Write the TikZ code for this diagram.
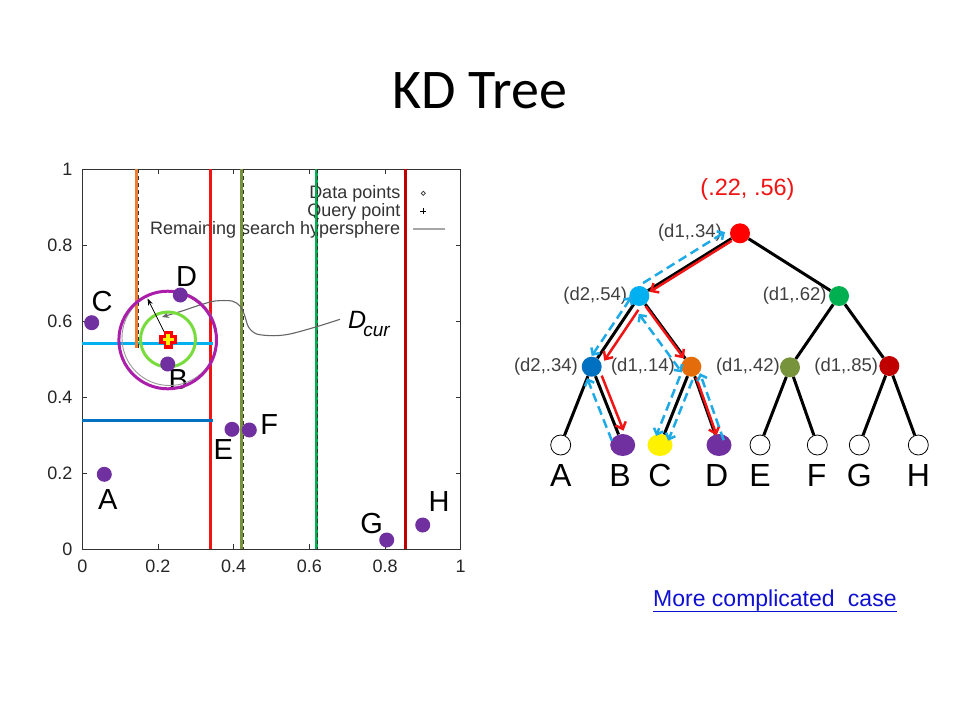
\documentclass[tikz,border=0pt]{standalone}
\usepackage{fontspec}
\setmainfont{Liberation Sans}
\newfontfamily\titlefont{Carlito}
\usetikzlibrary{arrows.meta,calc,shapes.geometric}
\definecolor{ptpurple}{RGB}{112,48,160}
\definecolor{lineorange}{RGB}{237,125,49}
\definecolor{linered}{RGB}{240,20,20}
\definecolor{lineolive}{RGB}{119,147,60}
\definecolor{linegreen}{RGB}{0,176,80}
\definecolor{linedarkred}{RGB}{192,0,0}
\definecolor{linecyan}{RGB}{0,176,240}
\definecolor{lineblue}{RGB}{0,112,192}
\definecolor{circmag}{RGB}{170,30,170}
\definecolor{circgreen}{RGB}{120,220,60}
\definecolor{nodeorange}{RGB}{228,108,10}
\definecolor{dashcyan}{RGB}{30,170,230}
\definecolor{labelgray}{RGB}{64,64,64}
\definecolor{linkblue}{RGB}{16,16,210}
\newcommand\myfs[1]{\fontsize{#1}{#1}\selectfont}
\newcommand\sidearrow[4]{\draw[#1] ($(#2.center)!#4!90:(#3.center)$) -- ($(#3.center)!#4!-90:(#2.center)$);}
\begin{document}
\begin{tikzpicture}[x=1pt,y=-1pt,
  plotline/.style={line width=3pt},
  blackdash/.style={line width=0.8pt, dash pattern=on 4pt off 3pt, black!80},
  tickmark/.style={line width=0.8pt, black!80},
  ticklabel/.style={font=\myfs{18}, text=black!85, inner sep=0pt},
  ptdot/.style={circle, fill=ptpurple, minimum size=15pt, inner sep=0pt},
  ptlabel/.style={font=\myfs{29}, inner sep=0pt},
  legendtext/.style={font=\myfs{18}, text=black!80, inner sep=0pt, anchor=base east},
  tnode/.style={circle, minimum size=20pt, inner sep=0pt},
  leaf/.style={circle, draw=black, line width=0.8pt, fill=white, minimum size=20pt, inner sep=0pt},
  pleaf/.style={ellipse, minimum width=25pt, minimum height=22pt, inner sep=0pt},
  tlabel/.style={font=\myfs{18.5}, text=labelgray, inner sep=0pt, anchor=east},
  leaflabel/.style={font=\myfs{32}, anchor=base, inner sep=0pt},
  edge/.style={line width=3pt, black},
  redarr/.style={line width=2.5pt, linered, -{Straight Barb[length=6pt,width=11pt]}},
  cyandash/.style={line width=2.5pt, dashcyan, dash pattern=on 9pt off 5pt},
  cyanend/.style={cyandash, -{Straight Barb[length=5pt,width=10pt]}},
  cyanboth/.style={cyandash, {Straight Barb[length=5pt,width=10pt]}-{Straight Barb[length=5pt,width=10pt]}}
]
\useasboundingbox (0,0) rectangle (960,720);
\fill[white] (0,0) rectangle (960,720);

% title
\node[font=\titlefont\myfs{56}, anchor=base, inner sep=0pt] (title) at (480,108.3) {KD Tree};

% ---------------- plot ----------------
\draw[line width=1pt, black!80] (82.3,169.3) rectangle (460.7,549);
\foreach \u in {0.2,0.4,0.6,0.8} {
  \draw[tickmark] ({82.3+378.4*\u},549) -- ++(0,-5);
  \draw[tickmark] ({82.3+378.4*\u},169.3) -- ++(0,5);
  \draw[tickmark] (82.3,{549-379.7*\u}) -- ++(5,0);
  \draw[tickmark] (460.7,{549-379.7*\u}) -- ++(-5,0);
}
\foreach \u/\t [count=\i] in {0/0,0.2/0.2,0.4/0.4,0.6/0.6,0.8/0.8,1/1} {
  \node[ticklabel] (xl\i) at ({82.3+378.4*\u},566.7) {\t};
  \node[ticklabel, anchor=east] (yl\i) at (72.5,{549-379.7*\u}) {\t};
}

% legend
\node[legendtext] (lg1) at (400.5,198.5) {Data points};
\node[legendtext] (lg2) at (400.5,216.5) {Query point};
\node[legendtext] (lg3) at (400.5,234) {Remaining search hypersphere};
\node[diamond, draw=black!80, inner sep=0pt, minimum size=4.5pt, line width=0.7pt] (lgd) at (423.3,193.3) {};
\coordinate (lgp) at (423.3,211);
\draw[line width=0.9pt] ([shift={(-3,0)}]lgp) -- ([shift={(3,0)}]lgp) ([shift={(0,-3)}]lgp) -- ([shift={(0,3)}]lgp);
\coordinate (lgl1) at (413.3,229.3);
\coordinate (lgl2) at (445,229.3);
\draw[gray!70, line width=1.8pt] (lgl1) -- (lgl2);

% point labels
\node[ptlabel] (tA) at (107.7,500) {A};
\node[ptlabel] (tB) at (178.3,380) {B};
\node[ptlabel] (tC) at (102,301.7) {C};
\node[ptlabel] (tD) at (186.7,276.7) {D};
\node[ptlabel] (tE) at (223.3,450) {E};
\node[ptlabel] (tF) at (269.3,425) {F};
\node[ptlabel] (tG) at (371.7,523.3) {G};
\node[ptlabel] (tH) at (439,501.7) {H};

% split lines
\draw[plotline, linered] (210,169.3) -- (210,549);
\draw[plotline, lineolive] (241.7,169.3) -- (241.7,549);
\draw[blackdash] (243.3,169.3) -- (243.3,549);
\draw[plotline, linegreen] (316,169.3) -- (316,549);
\draw[blackdash] (317.6,169.3) -- (317.6,549);
\draw[plotline, linedarkred] (405,169.3) -- (405,549);
\draw[plotline, linecyan] (82.3,343) -- (213.3,343);
\draw[plotline, lineblue] (82.3,420) -- (213.3,420);
\draw[plotline, lineorange] (136.7,169.3) -- (136.7,348);
\draw[blackdash] (138.3,169.3) -- (138.3,348);

% D_cur curve
\draw[black!60, line width=1.1pt, -{Stealth[length=7pt,width=6pt]}]
  plot[smooth] coordinates {(340,319.3) (316.7,326.7) (290,334) (273.3,335.7) (256.7,334) (248.5,327) (244.5,315) (240,306) (232,301) (215,301) (200,305) (182,311) (162,317)};
\node[anchor=base west, inner sep=0pt, font=\itshape\myfs{25}] (dcur) at (348,328.3) {D\kern-3pt\raisebox{-8.5pt}{\myfs{19}cur}};

% circles
\coordinate (q) at (168,339.5);
\draw[gray!80, line width=0.9pt] (169.5,338) circle[radius=47.5];
\draw[circmag, line width=3pt] (167.7,340) circle[radius=48.8];
\draw[circgreen, line width=3pt] (q) circle[radius=27.5];

% data points
\node[ptdot] (pA) at (104.3,474.3) {};
\node[ptdot] (pB) at (167.7,364) {};
\node[ptdot] (pC) at (91.7,322.7) {};
\node[ptdot] (pD) at (180.3,295) {};
\node[ptdot] (pE) at (232,429.3) {};
\node[ptdot] (pF) at (249.3,430) {};
\node[ptdot] (pG) at (386.7,540) {};
\node[ptdot] (pH) at (422.7,525) {};

% radius arrow and query marker
\coordinate (rtip) at (147.5,298.5);
\draw[line width=0.8pt, -{Stealth[length=7pt,width=5pt]}] (q) -- (rtip);
\fill[red] ([shift={(-9,-4.5)}]q) rectangle ([shift={(9,4.5)}]q);
\fill[red] ([shift={(-4.5,-9)}]q) rectangle ([shift={(4.5,9)}]q);
\fill[yellow] ([shift={(-5.5,-1.8)}]q) rectangle ([shift={(5.5,1.8)}]q);
\fill[yellow] ([shift={(-1.8,-5.5)}]q) rectangle ([shift={(1.8,5.5)}]q);

% ---------------- tree ----------------
\node[font=\myfs{23.5}, text=linered, anchor=base, inner sep=0pt] (qlabel) at (747.5,195) {(.22, .56)};

\node[tnode, fill=red] (root) at (740,233.3) {};
\node[tnode, fill=linecyan] (lb) at (639.3,296) {};
\node[tnode, fill=linegreen] (gn) at (839,296) {};
\node[tnode, fill=lineblue] (bl) at (591.7,366.7) {};
\node[tnode, fill=nodeorange] (orn) at (691.3,366.7) {};
\node[tnode, fill=lineolive] (ol) at (790,367.3) {};
\node[tnode, fill=linedarkred] (dr) at (889.3,366) {};

\node[leaf] (lA) at (560.7,445) {};
\node[pleaf, fill=ptpurple] (lB) at (622.7,445) {};
\node[pleaf, fill=yellow] (lC) at (660,445) {};
\node[pleaf, fill=ptpurple] (lD) at (719,445) {};
\node[leaf] (lE) at (760,445) {};
\node[leaf] (lF) at (817.3,445) {};
\node[leaf] (lG) at (859.3,445) {};
\node[leaf] (lH) at (918.3,445) {};

\node[tlabel] (k1) at (722,233) {(d1,.34)};
\node[tlabel] (k2) at (627.3,296) {(d2,.54)};
\node[tlabel] (k3) at (826.7,296) {(d1,.62)};
\node[tlabel] (k4) at (578,367) {(d2,.34)};
\node[tlabel] (k5) at (675,367) {(d1,.14)};
\node[tlabel] (k6) at (780,367) {(d1,.42)};
\node[tlabel] (k7) at (878.3,367) {(d1,.85)};

\node[leaflabel] (nA) at (560.7,486.7) {A};
\node[leaflabel] (nB) at (620,486.7) {B};
\node[leaflabel] (nC) at (660,486.7) {C};
\node[leaflabel] (nD) at (716.7,486.7) {D};
\node[leaflabel] (nE) at (760,486.7) {E};
\node[leaflabel] (nF) at (816.7,486.7) {F};
\node[leaflabel] (nG) at (859.3,486.7) {G};
\node[leaflabel] (nH) at (918.3,486.7) {H};

\draw[edge] (root) -- (lb);
\draw[edge] (root) -- (gn);
\draw[edge] (lb) -- (bl);
\draw[edge] (lb) -- (orn);
\draw[edge] (gn) -- (ol);
\draw[edge] (gn) -- (dr);
\draw[edge] (bl) -- (lA);
\draw[edge] (bl) -- (lB);
\draw[edge] (orn) -- (lC);
\draw[edge] (orn) -- (lD);
\draw[edge] (ol) -- (lE);
\draw[edge] (ol) -- (lF);
\draw[edge] (dr) -- (lG);
\draw[edge] (dr) -- (lH);

% search path (red) and backtracking (dashed)
\sidearrow{redarr, shorten <=11pt, shorten >=11pt}{root}{lb}{2pt}
\sidearrow{cyanend, shorten <=10pt, shorten >=12pt}{lb}{root}{9pt}
\sidearrow{redarr, shorten <=12pt, shorten >=12pt}{lb}{bl}{7pt}
\sidearrow{cyanboth, shorten <=9pt, shorten >=5pt}{bl}{lb}{6pt}
\sidearrow{redarr, shorten <=12pt, shorten >=11pt}{lb}{orn}{-1pt}
\sidearrow{cyanboth, shorten <=14pt, shorten >=1pt}{lb}{orn}{-11pt}
\sidearrow{redarr, shorten <=12pt, shorten >=13pt}{bl}{lB}{6pt}
\sidearrow{cyanend, shorten <=8pt, shorten >=9pt}{lB}{bl}{8.5pt}
\sidearrow{cyanend, shorten <=13pt, shorten >=7pt}{orn}{lC}{-7pt}
\sidearrow{cyanend, shorten <=12pt, shorten >=7pt}{orn}{lC}{6pt}
\sidearrow{redarr, shorten <=12pt, shorten >=10pt}{orn}{lD}{1pt}
\sidearrow{cyanend, shorten <=3pt, shorten >=9pt}{lD}{orn}{-6pt}

% link
\node[font=\myfs{23}, text=linkblue, anchor=base west, inner sep=0pt] (link) at (653,606.7) {More complicated\hspace{0.3em} case};
\draw[linkblue, line width=1.2pt] ([shift={(0,4.5)}]link.base west) -- ([shift={(0,4.5)}]link.base east);
\end{tikzpicture}
\end{document}
